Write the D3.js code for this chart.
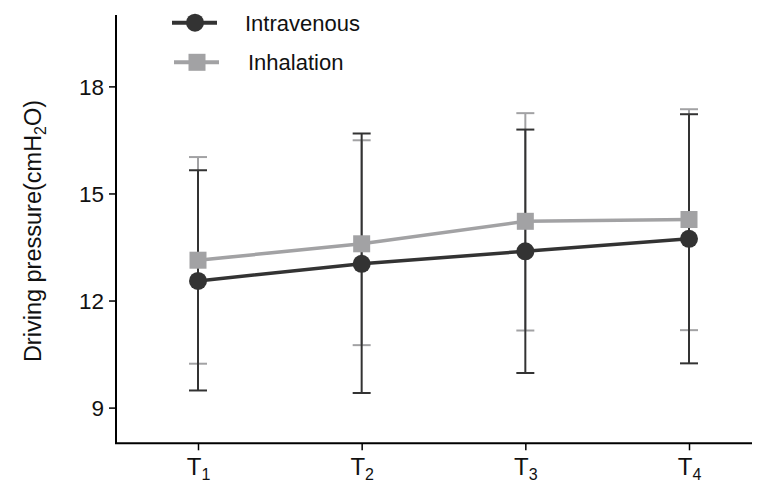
<!DOCTYPE html>
<html><head><meta charset="utf-8">
<script src="https://cdn.jsdelivr.net/npm/d3@7"></script>
<style>body{margin:0;background:#fff}svg{display:block;font-family:"Liberation Sans",Arial,sans-serif}</style>
</head><body>
<svg id="c" width="761" height="483"></svg>
<script>
const categories = ["1","2","3","4"];
const seriesNames = ["Intravenous","Inhalation"];
const intravenousMean = [12.55, 13.03, 13.38, 13.73];
const intravenousLow  = [9.48, 9.41, 9.97, 10.24];
const intravenousHigh = [15.65, 16.68, 16.79, 17.22];
const inhalationMean = [13.13, 13.59, 14.22, 14.27];
const inhalationLow  = [10.23, 10.75, 11.16, 11.17];
const inhalationHigh = [16.02, 16.49, 17.25, 17.36];
const yTicks = [9, 12, 15, 18];

const svg = d3.select("#c");
const x = d3.scalePoint().domain(categories).range([198, 689]);
const y = d3.scaleLinear().domain([8, 20]).range([443.3, 15]);

const series = [
  {name: seriesNames[1], mean: inhalationMean, low: inhalationLow, high: inhalationHigh, color: "#a2a2a4", shape: "square"},
  {name: seriesNames[0], mean: intravenousMean, low: intravenousLow, high: intravenousHigh, color: "#333333", shape: "circle"}
];

// axes
const yAxis = svg.append("g").attr("transform", "translate(116,0)")
  .call(d3.axisLeft(y).tickValues(yTicks).tickSize(7).tickSizeOuter(0));
yAxis.select(".domain").attr("stroke", "#000").attr("stroke-width", 2).attr("d", `M0,${y(20)}V${y(8)}`);
yAxis.selectAll(".tick line").attr("stroke", "#000").attr("stroke-width", 1.5);
yAxis.selectAll(".tick text").attr("font-size", 22.5).attr("fill", "#111").attr("x", -12).attr("dy", "0.36em");

const xAxis = svg.append("g").attr("transform", `translate(0,${y(8)})`)
  .call(d3.axisBottom(x).tickSize(7).tickSizeOuter(0).tickFormat(""));
xAxis.select(".domain").attr("stroke", "#000").attr("stroke-width", 2).attr("d", "M115,0H752");
xAxis.selectAll(".tick line").attr("stroke", "#000").attr("stroke-width", 1.5);
xAxis.selectAll(".tick").each(function(d){
  const t = d3.select(this).append("text").attr("fill", "#111").attr("y", 31.5).attr("text-anchor", "middle").attr("font-size", 24).attr("x", 0);
  t.append("tspan").text("T");
  t.append("tspan").attr("font-size", 16).attr("dy", 5).text(d);
});

// y title
const title = svg.append("text").attr("transform", "translate(41,231) rotate(-90)")
  .attr("text-anchor", "middle").attr("font-size", 23.5).attr("fill", "#111");
title.append("tspan").text("Driving pressure(cmH");
title.append("tspan").attr("font-size", 16).attr("dy", 5).text("2");
title.append("tspan").attr("dy", -5).text("O)");

// error bars
series.forEach(s => {
  const g = svg.append("g");
  categories.forEach((c, i) => {
    const cx = x(c);
    g.append("line").attr("x1", cx).attr("x2", cx).attr("y1", y(s.low[i])).attr("y2", y(s.high[i]))
      .attr("stroke", s.color).attr("stroke-width", 2);
    [s.low[i], s.high[i]].forEach(v => {
      g.append("line").attr("x1", cx - 9).attr("x2", cx + 9).attr("y1", y(v)).attr("y2", y(v))
        .attr("stroke", s.color).attr("stroke-width", 2);
    });
  });
});
// lines and markers
series.forEach(s => {
  const line = d3.line().x((d, i) => x(categories[i])).y(d => y(d));
  svg.append("path").attr("d", line(s.mean)).attr("fill", "none").attr("stroke", s.color).attr("stroke-width", 3.5);
  categories.forEach((c, i) => {
    if (s.shape === "circle") {
      svg.append("circle").attr("cx", x(c)).attr("cy", y(s.mean[i])).attr("r", 9).attr("fill", s.color);
    } else {
      svg.append("rect").attr("x", x(c) - 8.5).attr("y", y(s.mean[i]) - 8.5).attr("width", 17).attr("height", 17).attr("fill", s.color);
    }
  });
});

// legend
const legend = [
  {name: seriesNames[0], color: "#333333", shape: "circle", y: 22.7, lx1: 172, lx2: 217, mx: 195, tx: 245},
  {name: seriesNames[1], color: "#a2a2a4", shape: "square", y: 62.3, lx1: 174, lx2: 219, mx: 197, tx: 248}
];
legend.forEach(l => {
  svg.append("line").attr("x1", l.lx1).attr("x2", l.lx2).attr("y1", l.y).attr("y2", l.y).attr("stroke", l.color).attr("stroke-width", 4);
  if (l.shape === "circle") svg.append("circle").attr("cx", l.mx).attr("cy", l.y).attr("r", 9).attr("fill", l.color);
  else svg.append("rect").attr("x", l.mx - 8.5).attr("y", l.y - 8.5).attr("width", 17).attr("height", 17).attr("fill", l.color);
  svg.append("text").attr("x", l.tx).attr("y", l.y + 8).attr("font-size", 22).attr("fill", "#111").text(l.name);
});
</script>
</body></html>
